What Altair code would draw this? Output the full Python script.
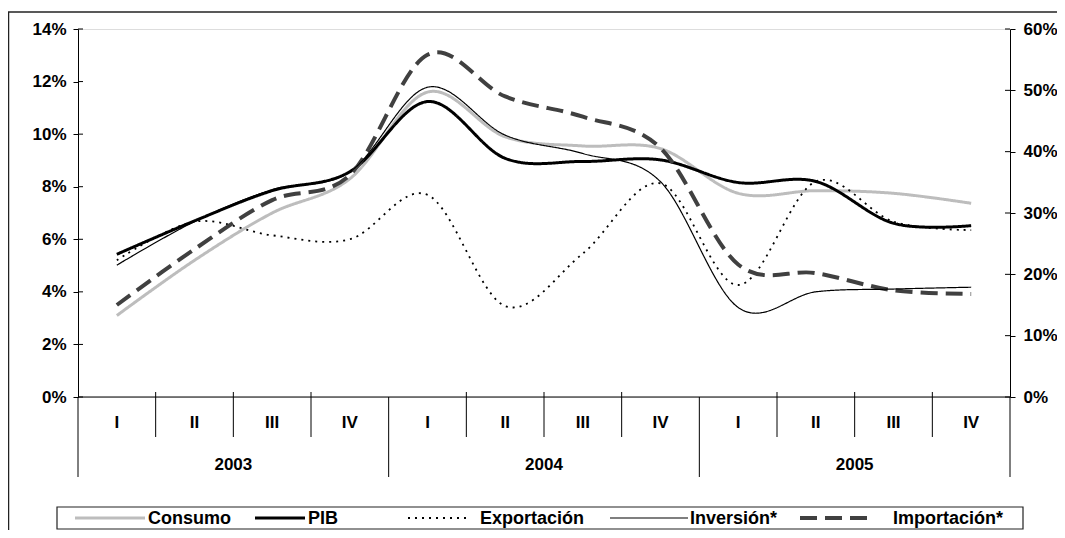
import altair as alt
import pandas as pd

# ---------------- data ----------------
quarters = ["I", "II", "III", "IV", "I", "II", "III", "IV", "I", "II", "III", "IV"]
years = ["2003", "2004", "2005"]

# left axis (%)
consumo = [3.1, 5.2, 7.0, 8.3, 11.6, 9.9, 9.55, 9.45, 7.75, 7.85, 7.75, 7.37]
pib = [5.43, 6.7, 7.85, 8.57, 11.24, 9.08, 8.96, 9.02, 8.16, 8.2, 6.61, 6.52]
exportacion = [5.2, 6.67, 6.15, 6.0, 7.69, 3.46, 5.46, 8.13, 4.26, 8.2, 6.67, 6.35]
# right axis (%)
inversion = [21.5, 28.6, 33.8, 36.7, 50.5, 42.7, 39.7, 35.1, 14.6, 17.15, 17.6, 17.9]
importacion = [15.0, 24.1, 32.1, 36.2, 55.8, 49.0, 45.7, 40.6, 21.6, 20.2, 17.4, 16.8]

left_ticks = [0, 2, 4, 6, 8, 10, 12, 14]
right_ticks = [0, 10, 20, 30, 40, 50, 60]

# ---------------- styles / layout ----------------
W, H = 932, 368
FONT = "Liberation Sans"

styles = {
    "Consumo": dict(color="#bdbdbd", width=3, dash=[1, 0]),
    "PIB": dict(color="#000000", width=3, dash=[1, 0]),
    "Exportación": dict(color="#000000", width=1.8, dash=[2, 5]),
    "Inversión*": dict(color="#000000", width=1.2, dash=[1, 0]),
    "Importación*": dict(color="#404040", width=4, dash=[17, 8]),
}
# legend layout in pixels relative to the plot area: (line start, line end, text start)
legend_layout = {
    "Consumo": (-3, 67, 70),
    "PIB": (177, 227, 230),
    "Exportación": (330, 390, 402),
    "Inversión*": (532, 610, 612),
    "Importación*": (722, 797, 815),
}
LEG_Y = 489

series_left = {"Consumo": consumo, "Exportación": exportacion, "PIB": pib}
series_right = {"Importación*": importacion, "Inversión*": inversion}

pos = [i + 0.5 for i in range(len(quarters))]

xscale = alt.Scale(domain=[0, 12])
X = alt.X("q:Q", scale=xscale, axis=None)


def yaxis(orient, pad):
    return alt.Axis(
        orient=orient, values=(left_ticks if orient == "left" else right_ticks),
        labelExpr="datum.value + '%'", grid=False, tickSize=5, tickColor="black",
        domainColor="black", labelFont=FONT, labelFontWeight="bold", labelFontSize=17,
        labelColor="black", labelPadding=pad, title=None,
        labelAlign=("right" if orient == "left" else "left"),
    )


def line_layer(name, values, yenc):
    st = styles[name]
    df = pd.DataFrame({"q": pos, "v": values, "serie": name})
    return alt.Chart(df).mark_line(
        interpolate="cardinal", color=st["color"], strokeWidth=st["width"],
        strokeDash=st["dash"], clip=False,
    ).encode(x=X, y=yenc)


yl = alt.Y("v:Q", scale=alt.Scale(domain=[0, 14]), axis=yaxis("left", 7))
yr = alt.Y("v:Q", scale=alt.Scale(domain=[0, 60]), axis=yaxis("right", 8))

left_ticks_df = pd.DataFrame({"v": left_ticks})
right_ticks_df = pd.DataFrame({"v": right_ticks})

left_group = alt.layer(
    *[line_layer(n, v, yl) for n, v in series_left.items()],
    alt.Chart(left_ticks_df).mark_rule(color="black").encode(
        y=yl, x=alt.value(0), x2=alt.value(5)),
)
right_group = alt.layer(
    *[line_layer(n, v, yr) for n, v in series_right.items()],
    alt.Chart(right_ticks_df).mark_rule(color="black").encode(
        y=yr, x=alt.value(W - 5), x2=alt.value(W)),
)

# ---------------- category axis (two levels) ----------------
qdf = pd.DataFrame({"q": pos, "label": quarters})
q_bounds = pd.DataFrame({"b": [b for b in range(1, 12) if b % 4 != 0]})
y_bounds = pd.DataFrame({"b": [0, 4, 8, 12]})
ydf = pd.DataFrame({"q": [2, 6, 10], "label": years})

axis_line = alt.Chart(pd.DataFrame({"b": [0]})).mark_rule(color="black").encode(
    x=alt.value(0), x2=alt.value(W), y=alt.value(H))
q_sep = alt.Chart(q_bounds).mark_rule(color="black").encode(
    x=alt.X("b:Q", scale=xscale, axis=None), y=alt.value(H - 5), y2=alt.value(H + 40))
y_sep = alt.Chart(y_bounds).mark_rule(color="black").encode(
    x=alt.X("b:Q", scale=xscale, axis=None), y=alt.value(H), y2=alt.value(H + 80))
q_text = alt.Chart(qdf).mark_text(
    font=FONT, fontWeight="bold", fontSize=17, color="black", baseline="middle"
).encode(x=X, y=alt.value(H + 26), text="label:N")
y_text = alt.Chart(ydf).mark_text(
    font=FONT, fontWeight="bold", fontSize=17, color="black", baseline="middle"
).encode(x=X, y=alt.value(H + 68), text="label:N")

# ---------------- outer frame ----------------
frame_left = alt.Chart(pd.DataFrame({"b": [0]})).mark_rule(color="#222", strokeWidth=1.5).encode(
    x=alt.value(-69.5), y=alt.value(-17), y2=alt.value(H + 140))
frame_top = alt.Chart(pd.DataFrame({"b": [0]})).mark_rule(color="#222", strokeWidth=1.5).encode(
    x=alt.value(-70), x2=alt.value(W + 60), y=alt.value(-17))

# ---------------- legend ----------------
leg_box = alt.Chart(pd.DataFrame({"b": [0]})).mark_rect(
    fill="white", stroke="#222", strokeWidth=1.2
).encode(x=alt.value(-21), x2=alt.value(945), y=alt.value(LEG_Y - 11), y2=alt.value(LEG_Y + 11))
leg_layers = [leg_box]
for name, (x0, x1, xt) in legend_layout.items():
    st = styles[name]
    leg_layers.append(
        alt.Chart(pd.DataFrame({"b": [0]})).mark_rule(
            color=st["color"], strokeWidth=st["width"], strokeDash=st["dash"]
        ).encode(x=alt.value(x0), x2=alt.value(x1), y=alt.value(LEG_Y))
    )
    leg_layers.append(
        alt.Chart(pd.DataFrame({"t": [name]})).mark_text(
            font=FONT, fontWeight="bold", fontSize=18, color="black",
            align="left", baseline="middle"
        ).encode(x=alt.value(xt), y=alt.value(LEG_Y + 1), text="t:N")
    )

chart = alt.layer(
    frame_left, frame_top, axis_line, q_sep, y_sep, q_text, y_text,
    *leg_layers, left_group, right_group,
).resolve_scale(y="independent").properties(
    width=W, height=H,
    autosize=alt.AutoSizeParams(type="none"),
    padding={"left": 70, "top": 21, "right": 47, "bottom": 133},
).configure_view(stroke=None).configure(background="white")

chart.save("out.html", embed_options={"renderer": "svg", "actions": False})
